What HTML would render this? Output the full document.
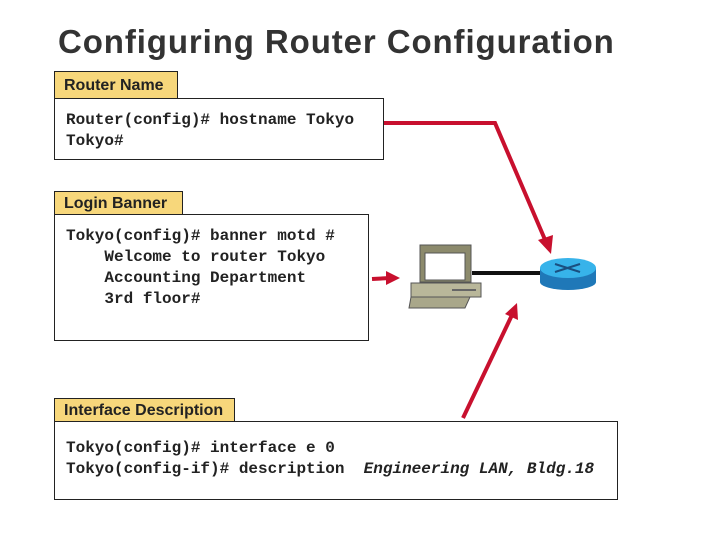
<!DOCTYPE html>
<html><head><style>
body{margin:0;width:720px;height:540px;background:#fff;position:relative;overflow:hidden;font-family:"Liberation Sans",sans-serif}
.t{position:absolute;left:58px;top:23px;font-size:33px;font-weight:bold;color:#333;letter-spacing:0.9px}
.tab{position:absolute;background:#f7d77b;border:1.5px solid #222;border-bottom:none;font-size:16px;font-weight:bold;color:#222;padding-left:9px;box-sizing:border-box;line-height:24px}
.box{position:absolute;border:1.5px solid #222;box-sizing:border-box;background:#fff}
.c{position:absolute;font-family:"Liberation Mono",monospace;font-weight:bold;font-size:16px;color:#222;white-space:pre;line-height:21px}
</style></head><body>
<div class="t">Configuring Router Configuration</div>
<div class="tab" style="left:54px;top:71px;width:124px;height:28px;line-height:28px">Router Name</div>
<div class="box" style="left:54px;top:98px;width:330px;height:62px"></div>
<div class="c" style="left:66px;top:110px">Router(config)# hostname Tokyo
Tokyo#</div>
<div class="tab" style="left:54px;top:191px;width:129px;height:24px;line-height:24px">Login Banner</div>
<div class="box" style="left:54px;top:214px;width:315px;height:127px"></div>
<div class="c" style="left:66px;top:226px">Tokyo(config)# banner motd #
    Welcome to router Tokyo
    Accounting Department
    3rd floor#</div>
<div class="tab" style="left:54px;top:398px;width:181px;height:24px;line-height:24px">Interface Description</div>
<div class="box" style="left:54px;top:421px;width:564px;height:79px"></div>
<div class="c" style="left:66px;top:438px">Tokyo(config)# interface e 0
Tokyo(config-if)# description  <i>Engineering LAN, Bldg.18</i></div>
<svg width="720" height="540" style="position:absolute;left:0;top:0">
<g stroke="#c8102e" stroke-width="4" fill="none">
<polyline points="384,123 495,123 546,242"/>
<line x1="372" y1="279" x2="390" y2="278"/>
<line x1="463" y1="418" x2="512" y2="315"/>
</g>
<g fill="#c8102e">
<polygon points="551,254 538,240 553,235"/>
<polygon points="400,278 386,271 386,285"/>
<polygon points="517,303 518,320 505,314"/>
</g>
<line x1="472" y1="273" x2="542" y2="273" stroke="#111" stroke-width="4"/>
<rect x="420" y="245" width="51" height="37" fill="#8c8a6c" stroke="#555"/>
<rect x="425" y="253" width="40" height="27" fill="#fff" stroke="#555"/>
<rect x="411" y="283" width="70" height="14" fill="#b9b79a" stroke="#555"/>
<polygon points="411,297 470,297 465,308 409,308" fill="#a9a78a" stroke="#555"/>
<line x1="452" y1="290" x2="476" y2="290" stroke="#666" stroke-width="2"/>
<rect x="540" y="268" width="56" height="14" fill="#1f78b8"/>
<ellipse cx="568" cy="282" rx="28" ry="8" fill="#1f78b8"/>
<ellipse cx="568" cy="268" rx="28" ry="10" fill="#37b3ea"/>
<g stroke="#1a4f80" stroke-width="2"><line x1="555" y1="264" x2="580" y2="272"/><line x1="580" y1="264" x2="555" y2="272"/></g>
</svg>
</body></html>
